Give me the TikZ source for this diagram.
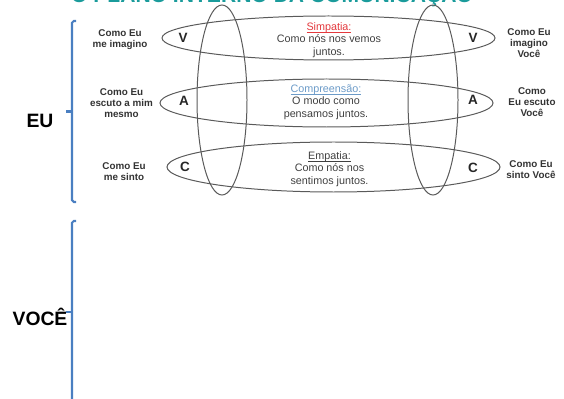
\documentclass[tikz,border=0pt]{standalone}
\usepackage{fontspec}
\setmainfont{Liberation Sans}
\definecolor{titleteal}{HTML}{1A9B9B}
\definecolor{braceblue}{HTML}{4A7FC1}
\definecolor{ringgray}{HTML}{5A5A5A}
\definecolor{labelgray}{HTML}{333333}
\definecolor{textgray}{HTML}{404040}
\definecolor{simpred}{HTML}{E3393D}
\definecolor{compblue}{HTML}{6C9BC8}
\newcommand{\headline}[1]{\underline{\raisebox{0pt}[\height][0pt]{#1}}}
\tikzset{
	ring/.style={draw=ringgray, line width=0.85pt},
	bracket/.style={draw=braceblue, line width=1.8pt},
	side/.style={font=\bfseries\fontsize{8.4}{9.6}\selectfont, text=labelgray, align=center, inner sep=0pt},
	mid/.style={font=\fontsize{9.2}{10.6}\selectfont, text=textgray, align=center, inner sep=0pt},
	chan/.style={font=\bfseries\fontsize{11.5}{12}\selectfont, text=black!85, inner sep=0pt},
	who/.style={font=\bfseries\fontsize{16.5}{18}\selectfont, anchor=base, inner sep=0pt}
}
\begin{document}
\begin{tikzpicture}[x=0.03cm, y=-0.03cm]
	\useasboundingbox (0,0) rectangle (564,399);
	% title, cut at the top edge
	\node[anchor=base, inner sep=0pt, text=titleteal, font=\bfseries\fontsize{18}{20}\selectfont] (titulo) at (272,3) {O PLANO INTERNO DA COMUNICAÇÃO};
	% the two vertical rings
	\draw[ring] (222,100) ellipse [x radius=25, y radius=95];
	\draw[ring] (433,100) ellipse [x radius=25, y radius=95];
	% the three horizontal rings
	\draw[ring] (328.5,38) ellipse [x radius=166.5, y radius=22];
	\draw[ring] (326.5,103) ellipse [x radius=166.5, y radius=24];
	\draw[ring] (333.5,167) ellipse [x radius=166.5, y radius=25];
	% channels
	\node[chan] (vl) at (183,38) {V};
	\node[chan] (al) at (184,101) {A};
	\node[chan] (cl) at (185,167) {C};
	\node[chan] (vr) at (473,38) {V};
	\node[chan] (ar) at (473,100) {A};
	\node[chan] (cr) at (473,168) {C};
	% middle texts
	\node[mid] (simpatia) at (329,40) {\textcolor{simpred}{\headline{Simpatia:}}\\Como nós nos vemos\\juntos.};
	\node[mid] (compreensao) at (326,102) {\textcolor{compblue}{\headline{Compreensão:}}\\O modo como\\pensamos juntos.};
	\node[mid] (empatia) at (329.5,169) {\headline{Empatia:}\\Como nós nos\\sentimos juntos.};
	% side labels
	\node[side] (imaginoeu) at (120,39.5) {Como Eu\\me imagino};
	\node[side] (escutoeu) at (121.5,103) {Como Eu\\escuto a mim\\mesmo};
	\node[side] (sintoeu) at (124,171.5) {Como Eu\\me sinto};
	\node[side] (imaginovoce) at (529,43) {Como Eu\\imagino\\Você};
	\node[side] (escutovoce) at (532,102) {Como\\Eu escuto\\Você};
	\node[side] (sintovoce) at (531,169.5) {Como Eu\\sinto Você};
	% brackets
	\draw[bracket, rounded corners=1.5] (76,21) -- (72,21) -- (72,202) -- (76,202);
	\draw[bracket] (72,111.5) -- (66,111.5);
	\draw[bracket, rounded corners=1.5] (76,221) -- (72,221) -- (72,405);
	\draw[bracket] (72,312) -- (66,312);
	\node[who] (eu) at (40,128) {EU};
	\node[who] (voce) at (40,325) {VOCÊ};
\end{tikzpicture}
\end{document}
